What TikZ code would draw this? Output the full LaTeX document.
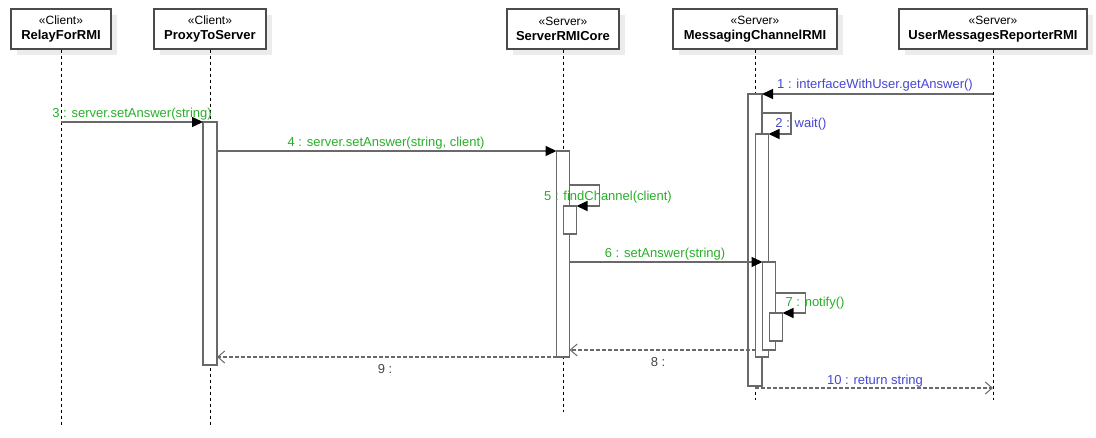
\documentclass[tikz,border=0pt]{standalone}
\usepackage{fontspec}
\setmainfont{Liberation Sans}
\usetikzlibrary{arrows.meta,shadows}
\definecolor{msggreen}{RGB}{40,175,40}
\definecolor{msgblue}{RGB}{70,70,210}
\definecolor{retgray}{RGB}{70,70,70}
\definecolor{linegray}{RGB}{105,105,105}
\definecolor{boxgray}{RGB}{75,75,75}
\definecolor{shadowgray}{RGB}{236,236,236}

\begin{document}
\begin{tikzpicture}[x=1pt,y=-1pt,
  font=\fontsize{13}{15}\selectfont,
  header/.style={draw=boxgray, line width=1.2pt, fill=white, minimum height=40pt,
    align=center, inner sep=0pt,
    general shadow={shadow xshift=6pt, shadow yshift=-6pt, fill=shadowgray, opacity=1}},
  act/.style={draw=linegray, line width=1.5pt, fill=white, minimum width=13pt,
    inner sep=0pt, outer sep=0pt, anchor=north},
  life/.style={black, line width=0.9pt, dash pattern=on 3pt off 3pt},
  call/.style={draw=linegray, line width=1.5pt,
    -{Triangle[length=11pt,width=10pt,black]}},
  ret/.style={draw=linegray, line width=1.5pt, dash pattern=on 3.5pt off 2.5pt,
    -{Straight Barb[length=7pt,width=12pt,linegray,line width=1pt]}},
  glabel/.style={text=msggreen, inner sep=0pt},
  blabel/.style={text=msgblue, inner sep=0pt},
  klabel/.style={text=retgray, inner sep=0pt},
  stereo/.style={font=\fontsize{12}{14}\selectfont}
]
\useasboundingbox (0,0) rectangle (1096,438);

% object headers
\node[header, minimum width=100pt] (relay) at (61,29)
  {{\fontsize{12}{14}\selectfont «Client»}\\[0pt]\textbf{RelayForRMI}};
\node[header, minimum width=112pt] (proxy) at (210,29)
  {{\fontsize{12}{14}\selectfont «Client»}\\[0pt]\textbf{ProxyToServer}};
\node[header, minimum width=112pt] (core) at (563,29)
  {{\fontsize{12}{14}\selectfont «Server»}\\[0pt]\textbf{ServerRMICore}};
\node[header, minimum width=164pt] (chan) at (755,29)
  {{\fontsize{12}{14}\selectfont «Server»}\\[0pt]\textbf{MessagingChannelRMI}};
\node[header, minimum width=188pt] (user) at (993,29)
  {{\fontsize{12}{14}\selectfont «Server»}\\[0pt]\textbf{UserMessagesReporterRMI}};

% lifeline ends
\coordinate (relayEnd) at (61,425);
\coordinate (proxyEnd) at (210,425);
\coordinate (coreEnd) at (563,412);
\coordinate (chanEnd) at (755,400);
\coordinate (userEnd) at (993,400);

\draw[life] (relay) -- (relayEnd);
\draw[life] (proxy) -- (proxyEnd);
\draw[life] (core) -- (coreEnd);
\draw[life] (chan) -- (chanEnd);
\draw[life] (user) -- (userEnd);

% activation bars
\node[act, minimum width=14pt, minimum height=243pt] (actP) at (210,122) {};
\node[act, minimum height=206pt] (actS) at (563,151) {};
\node[act, minimum height=28pt] (actS2) at (570,206) {};
\node[act, minimum width=14pt, minimum height=292pt] (actM1) at (755,94) {};
\node[act, minimum height=223pt] (actM2) at (762,134) {};
\node[act, minimum height=88pt] (actM3) at (769,262) {};
\node[act, minimum height=28pt] (actM4) at (776,313) {};

% message end points on lifelines
\coordinate (m3from) at (61,122);
\coordinate (m1from) at (993,94);
\coordinate (m10to) at (993,388);

% messages
\draw[call] (m1from) -- (actM1.north east);
\node[blabel] (l1) at (875,85) {1 : interfaceWithUser.getAnswer()};

\draw[call] (actM1.east |- 0,113) -- ++(29,0) -- ++(0,21) -- (actM2.north east);
\node[blabel] (l2) at (801,124) {2 : wait()};

\draw[call] (m3from) -- (actP.north west);
\node[glabel] (l3) at (132,114) {3 : server.setAnswer(string)};

\draw[call] (actP.east |- 0,151) -- (actS.north west);
\node[glabel] (l4) at (386,143) {4 : server.setAnswer(string, client)};

\draw[call] (actS.east |- 0,185) -- ++(30,0) -- ++(0,21) -- (actS2.north east);
\node[glabel] (l5) at (608,197) {5 : findChannel(client)};

\draw[call] (actS.east |- 0,262) -- (actM3.north west);
\node[glabel] (l6) at (665,254) {6 : setAnswer(string)};

\draw[call] (actM3.east |- 0,293) -- ++(30,0) -- ++(0,20) -- (actM4.north east);
\node[glabel] (l7) at (815,303) {7 : notify()};

\draw[ret] (actM2.west |- 0,350) -- (actS.east |- 0,350);
\node[klabel] (l8) at (658,362) {8 :};

\draw[ret] (actS.west |- 0,357) -- (actP.east |- 0,357);
\node[klabel] (l9) at (385,369) {9 :};

\draw[ret] (actM1.south |- 0,388) -- (m10to);
\node[blabel] (l10) at (875,381) {10 : return string};
\end{tikzpicture}
\end{document}
